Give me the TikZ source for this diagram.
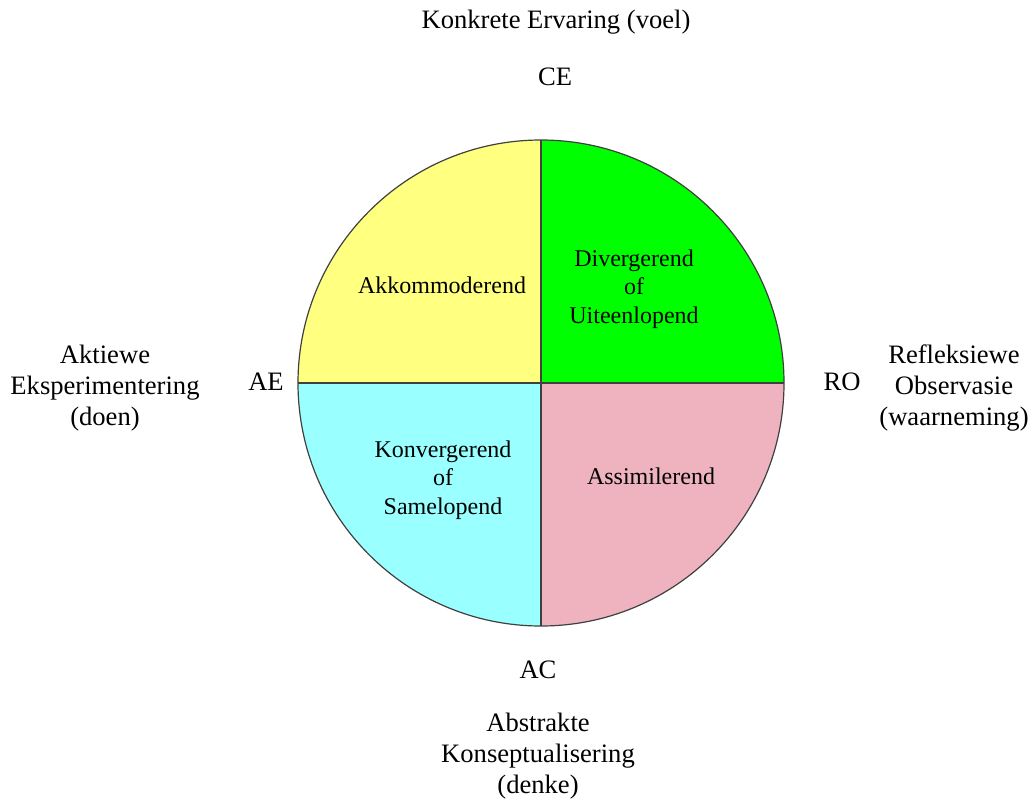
\documentclass[tikz,border=0pt]{standalone}
\usepackage{fontspec}
\setmainfont{Liberation Serif}
\usepackage{tikz}
\usetikzlibrary{positioning,calc}

\begin{document}
\begin{tikzpicture}[x=0.5pt, y=0.5pt,
    lbl/.style={font=\fontsize{13.3}{15.4}\selectfont, align=center, inner sep=1pt},
    quad/.style={font=\fontsize{12}{14.2}\selectfont, align=center, inner sep=1pt},
    rim/.style={draw=black!75, line width=0.6pt}]
                \definecolor{accom}{RGB}{255,255,128}
                \definecolor{diverg}{RGB}{0,255,0}
                \definecolor{converg}{RGB}{153,255,255}
                \definecolor{assim}{RGB}{238,179,190}

                \useasboundingbox (0,0) rectangle (1032,800);

                % Circle centre and radius 243
                \coordinate (c) at (541,417);

                % Four quadrants
                \fill[diverg] (c) -- ++(0,243) arc (90:0:243) -- cycle;
                \fill[accom] (c) -- ++(-243,0) arc (180:90:243) -- cycle;
                \fill[converg] (c) -- ++(0,-243) arc (270:180:243) -- cycle;
                \fill[assim] (c) -- ++(243,0) arc (0:-90:243) -- cycle;

                % Outline and axes
                \draw[rim] (c) circle (243);
                \draw[rim] ($(c)+(0,243)$) -- ($(c)+(0,-243)$);
                \draw[rim] ($(c)+(-243,0)$) -- ($(c)+(243,0)$);

                % Quadrant labels
                \node[quad] (akk) at (442,515) {Akkommoderend};
                \node[quad] (div) at (634,511) {Divergerend\\of\\Uiteenlopend};
                \node[quad] (kon) at (443,320) {Konvergerend\\of\\Samelopend};
                \node[quad] (ass) at (651,324) {Assimilerend};

                % Pole abbreviations
                \node[lbl] (ce) at (555,723) {CE};
                \node[lbl] (ac) at (538,130) {AC};
                \node[lbl] (ae) at (266,418) {AE};
                \node[lbl] (ro) at (842,418) {RO};

                % Pole descriptions
                \node[lbl] (konkreet) at (556,778) {Konkrete Ervaring (voel)};
                \node[lbl] (abstrak) at (538,44) {Abstrakte\\Konseptualisering\\(denke)};
                \node[lbl] (aktief) at (105,412) {Aktiewe\\Eksperimentering\\(doen)};
                \node[lbl] (refleks) at (954,412) {Refleksiewe\\Observasie\\(waarneming)};
            \end{tikzpicture}
\end{document}
